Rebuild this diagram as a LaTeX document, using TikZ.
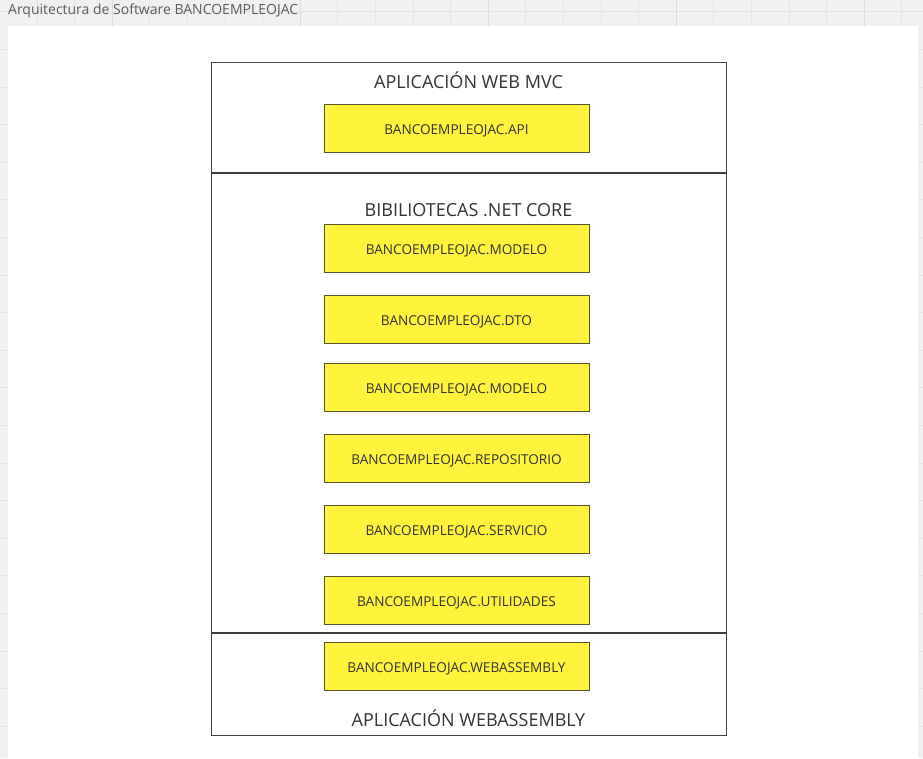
\documentclass[tikz,border=0pt]{standalone}
\usepackage{fontspec}
\setmainfont{Open Sans}

\definecolor{capayellow}{RGB}{255,243,60}
\definecolor{capaborde}{RGB}{90,82,48}
\definecolor{marco}{RGB}{64,64,60}
\definecolor{texto}{RGB}{51,51,51}
\definecolor{fondo}{RGB}{240,240,240}
\definecolor{rejilla}{RGB}{228,228,228}

\tikzset{
    modulo/.style={draw=capaborde, fill=capayellow, line width=0.9pt,
        minimum width=265pt, minimum height=48pt, inner sep=0pt,
        text height=12pt, text depth=0pt,
        text=texto, font=\fontsize{13.6}{15}\selectfont},
    titulo/.style={text=texto, inner sep=0pt, font=\fontsize{18}{20}\selectfont},
    divisor/.style={draw=marco, line width=2pt},
}

\begin{document}
\begin{tikzpicture}[x=1pt, y=-1pt]
        \useasboundingbox (0, 0) rectangle (923, 758);
        % fondo con rejilla
        \fill[fondo] (0, 0) rectangle (923, 758);
        \foreach \i in {0,...,23} {
            \draw[rejilla] ({36.8 + 37.6*\i}, 0) -- ({36.8 + 37.6*\i}, 758);
            \draw[rejilla] (0, {11.5 + 37.6*\i}) -- (923, {11.5 + 37.6*\i});
        }
        \foreach \i in {0,...,4} {
            \draw[rejilla!80!black!20!rejilla, line width=1pt] ({112 + 188*\i}, 0) -- ({112 + 188*\i}, 758);
        }
        \node[anchor=west, text=texto!80, inner sep=0pt, font=\fontsize{14}{16}\selectfont] (pestana) at (8, 11) {Arquitectura de Software BANCOEMPLEOJAC};
        \fill[white] (8, 26) rectangle (918, 758);
        % capas
        \draw[marco, line width=1pt] (211, 62) rectangle (726, 735);
        \draw[divisor] (211, 173) -- (726, 173);
        \draw[divisor] (211, 633) -- (726, 633);
        \node[titulo] (web) at (468.5, 80) {APLICACIÓN WEB MVC};
        \node[titulo] (net) at (468.5, 210) {BIBILIOTECAS .NET CORE};
        \node[titulo] (wasm) at (468.5, 718) {APLICACIÓN WEBASSEMBLY};
        % modulos
        \node[modulo] (api) at (456.5, 128.5) {BANCOEMPLEOJAC.API};
        \node[modulo] (modelo) at (456.5, 248) {BANCOEMPLEOJAC.MODELO};
        \node[modulo] (dto) at (456.5, 319) {BANCOEMPLEOJAC.DTO};
        \node[modulo] (modelob) at (456.5, 387) {BANCOEMPLEOJAC.MODELO};
        \node[modulo] (repositorio) at (456.5, 458) {BANCOEMPLEOJAC.REPOSITORIO};
        \node[modulo] (servicio) at (456.5, 529) {BANCOEMPLEOJAC.SERVICIO};
        \node[modulo] (utilidades) at (456.5, 600) {BANCOEMPLEOJAC.UTILIDADES};
        \node[modulo] (webassembly) at (456.5, 666) {BANCOEMPLEOJAC.WEBASSEMBLY};
\end{tikzpicture}
\end{document}
